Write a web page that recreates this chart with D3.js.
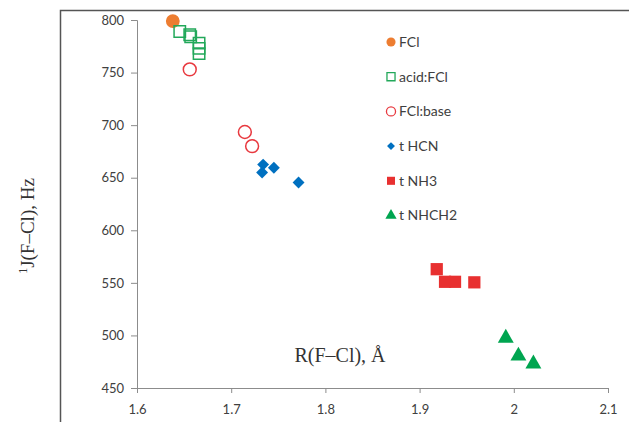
<!DOCTYPE html>
<html>
<head>
<meta charset="utf-8">
<script src="https://cdn.jsdelivr.net/npm/d3@7"></script>
<style>
  body { margin: 0; background: #fff; }
  .tick text { font-family: Lato, "Open Sans", sans-serif; font-size: 13px; fill: #404040; }
  .axis path, .axis line { stroke: #8c8c8c; }
</style>
</head>
<body>
<div id="chart"></div>
<script>
  // data: [R(F-Cl), 1J(F-Cl)]
  var fcl = [[1.638, 799]];
  var acidFcl = [[1.6454, 789], [1.656, 786], [1.657, 784], [1.6659, 778], [1.6659, 773], [1.6659, 768]];
  var fclBase = [[1.656, 753], [1.7145, 693.5], [1.7222, 680]];
  var tHCN = [[1.7339, 662.5], [1.7328, 655], [1.7453, 659.5], [1.7715, 645.5]];
  var tNH3 = [[1.9182, 563], [1.927, 551], [1.9376, 551], [1.9581, 550.5]];
  var tNHCH2 = [[1.9915, 497.5], [2.0049, 480.5], [2.0208, 473]];

  var seriesNames = ["FCl", "acid:FCl", "FCl:base", "t HCN", "t NH3", "t NHCH2"];
  var xTicks = [1.6, 1.7, 1.8, 1.9, 2.0, 2.1];
  var yTicks = [450, 500, 550, 600, 650, 700, 750, 800];

  var width = 629, height = 422;
  var margin = {top: 20, right: 21, bottom: 34, left: 137};

  var svg = d3.select("#chart").append("svg")
    .attr("width", width)
    .attr("height", height);

  // outer frame (only left and top edges are visible)
  svg.append("path")
    .attr("d", "M60.5," + height + "V10.5H" + width)
    .attr("fill", "none")
    .attr("stroke", "#555")
    .attr("stroke-width", 1.5);

  var x = d3.scaleLinear().domain([1.6, 2.1]).range([margin.left, width - margin.right]);
  var y = d3.scaleLinear().domain([450, 800]).range([height - margin.bottom, margin.top]);

  var xAxis = d3.axisBottom(x).tickValues(xTicks).tickSize(5).tickPadding(12)
    .tickFormat(function(d) { return d === 2 ? "2" : d3.format(".1f")(d); });
  var yAxis = d3.axisLeft(y).tickValues(yTicks).tickSize(6).tickPadding(7);

  svg.append("g")
    .attr("class", "axis x")
    .attr("transform", "translate(0," + (height - margin.bottom) + ")")
    .call(xAxis);

  svg.append("g")
    .attr("class", "axis y")
    .attr("transform", "translate(" + margin.left + ",0)")
    .call(yAxis);

  // series styles
  var styles = [
    {data: fcl, shape: d3.symbolCircle, size: 150, fill: "#ED7D31", stroke: "none"},
    {data: acidFcl, shape: d3.symbolSquare, size: 130, fill: "none", stroke: "#22A85A"},
    {data: fclBase, shape: d3.symbolCircle, size: 130, fill: "none", stroke: "#E8393F"},
    {data: tHCN, shape: d3.symbolDiamond2, size: 90, fill: "#0070C0", stroke: "none"},
    {data: tNH3, shape: d3.symbolSquare, size: 150, fill: "#E83030", stroke: "none"},
    {data: tNHCH2, shape: d3.symbolTriangle, size: 110, fill: "#00A550", stroke: "none"}
  ];

  styles.forEach(function(s, i) {
    svg.append("g").attr("class", "series-" + i)
      .selectAll("path")
      .data(s.data)
      .enter().append("path")
        .attr("transform", function(d) { return "translate(" + x(d[0]) + "," + y(d[1]) + ")"; })
        .attr("d", d3.symbol().type(s.shape).size(s.size))
        .attr("fill", s.fill)
        .attr("stroke", s.stroke)
        .attr("stroke-width", 1.5);
  });

  // legend
  var legend = svg.append("g").attr("class", "legend")
    .attr("transform", "translate(391,42)");

  var items = legend.selectAll("g")
    .data(styles)
    .enter().append("g")
      .attr("transform", function(d, i) { return "translate(0," + (i * 34.7) + ")"; });

  items.append("path")
    .attr("d", function(d) {
      var sz = d.shape === d3.symbolDiamond2 ? 40 : d.shape === d3.symbolTriangle ? 55 : 65;
      return d3.symbol().type(d.shape).size(sz)();
    })
    .attr("fill", function(d) { return d.fill; })
    .attr("stroke", function(d) { return d.stroke; })
    .attr("stroke-width", 1.3);

  items.append("text")
    .attr("x", 8)
    .attr("dy", "0.35em")
    .style("font-family", "Lato, 'Open Sans', sans-serif")
    .style("font-size", "14px")
    .style("fill", "#404040")
    .text(function(d, i) { return seriesNames[i]; });

  // axis titles
  svg.append("text")
    .attr("x", 340)
    .attr("y", 362)
    .attr("text-anchor", "middle")
    .style("font-family", "'Liberation Serif', 'DejaVu Serif', serif")
    .style("font-size", "20px")
    .style("fill", "#333")
    .text("R(F\u2013Cl), \u00C5");

  var yTitle = svg.append("text")
    .attr("transform", "translate(34,226) rotate(-90)")
    .attr("text-anchor", "middle")
    .style("font-family", "'Liberation Serif', 'DejaVu Serif', serif")
    .style("font-size", "19px")
    .style("fill", "#333");
  yTitle.append("tspan").attr("baseline-shift", "super").style("font-size", "12px").text("1");
  yTitle.append("tspan").text("J(F\u2013Cl), Hz");
</script>
</body>
</html>
